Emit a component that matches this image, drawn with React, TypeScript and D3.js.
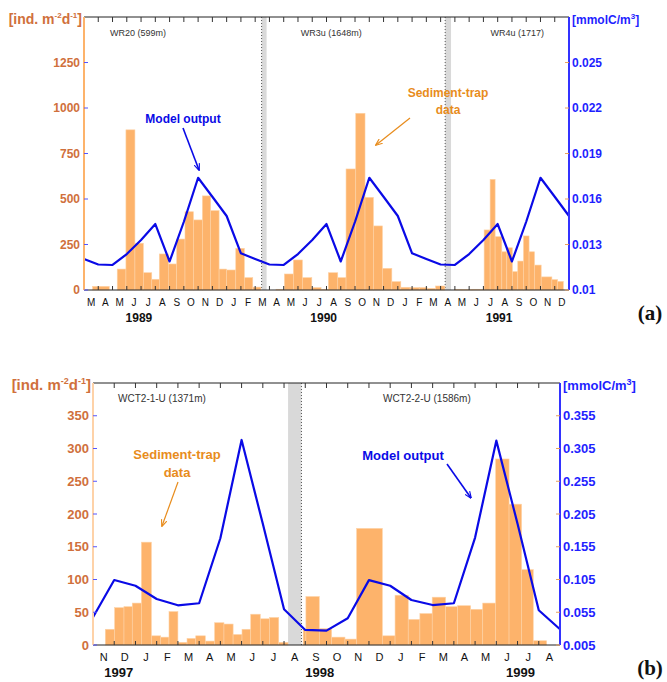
import React from "react"
import * as d3 from "d3"

// panel (a): month index 0 = March 1989, 34 months to Dec 1991
const monthsA = ["M","A","M","J","J","A","S","O","N","D","J","F","M","A","M","J","J","A","S","O","N","D","J","F","M","A","M","J","J","A","S","O","N","D"]
const yearsA = ["1989", "1990", "1991"]
const yearMonthA = [3.85, 16.8, 29.1]
const trapStartA = [0.6, 2.33, 2.94, 3.57, 4.16, 4.75, 5.28, 5.91, 6.5, 7.08, 7.67, 8.3, 8.88, 9.47, 10.0, 10.64, 11.24, 11.83,
  13.46, 14.05, 14.68, 15.31, 15.97, 16.62, 17.13, 17.79, 18.37, 19.05, 19.7, 20.29, 20.92, 21.58, 22.21, 22.86, 23.5, 24.05, 24.65,
  25.97, 26.49, 27.2, 28.05, 28.47, 28.82, 29.29, 29.64, 30.03, 30.41, 30.81, 31.2, 31.58, 32.05, 32.8, 33.2]
const trapEndA = [1.77, 2.94, 3.57, 4.16, 4.75, 5.28, 5.91, 6.5, 7.08, 7.67, 8.3, 8.88, 9.47, 10.0, 10.64, 11.24, 11.83, 12.4,
  14.05, 14.68, 15.31, 15.97, 16.62, 17.13, 17.79, 18.37, 19.05, 19.7, 20.29, 20.92, 21.58, 22.21, 22.86, 23.5, 24.05, 24.65, 25.3,
  26.49, 27.2, 28.05, 28.47, 28.82, 29.29, 29.64, 30.03, 30.41, 30.81, 31.2, 31.58, 32.05, 32.8, 33.2, 33.6]
const trapFluxA = [20, 115, 880, 257, 95, 59, 198, 143, 280, 430, 385, 517, 436, 115, 110, 229, 68, 16,
  4, 88, 165, 68, 13, 4, 95, 68, 665, 971, 509, 352, 119, 46, 15, 13, 13, 9, 22,
  4, 2, 4, 330, 608, 293, 210, 232, 101, 159, 297, 210, 137, 72, 57, 47]
// model output at month starts, index 0..34
const modelA = [0.01204, 0.01168, 0.01165, 0.01237, 0.0133, 0.01435, 0.01188, 0.0145, 0.0174, 0.01615, 0.01488, 0.01242,
  0.01204, 0.01168, 0.01165, 0.01237, 0.0133, 0.01435, 0.01188, 0.0145, 0.0174, 0.01615, 0.01488, 0.01242,
  0.01204, 0.01168, 0.01165, 0.01237, 0.0133, 0.01435, 0.01188, 0.0145, 0.0174, 0.01615, 0.01488]
const gapStartA = [12.45, 25.32]
const gapEndA = [12.8, 25.73]
const trapNamesA = ["WR20 (599m)", "WR3u (1648m)", "WR4u (1717)"]
const trapNameMonthA = [1.82, 15.2, 28.5]
const fluxTicksA = [0, 250, 500, 750, 1000, 1250]
const modelTicksA = [0.01, 0.013, 0.016, 0.019, 0.022, 0.025]

// panel (b): month index 0 = November 1997, 22 months to Aug 1999
const monthsB = ["N","D","J","F","M","A","M","J","J","A","S","O","N","D","J","F","M","A","M","J","J","A"]
const yearsB = ["1997", "1998", "1999"]
const yearMonthB = [1.21, 10.68, 20.14]
const trapStartB = [0.58, 1.02, 1.46, 1.85, 2.28, 2.75, 3.19, 3.58, 4.0, 4.43, 4.84, 5.29, 5.73, 6.17, 6.6, 7.02, 7.43, 7.88, 8.32, 8.75,
  9.9, 10.03, 10.66, 11.24, 11.87, 12.42, 13.63, 14.23, 14.85, 15.4, 15.98, 16.61, 17.18, 17.79, 18.36, 18.97, 19.6, 20.19, 20.74]
const trapEndB = [1.02, 1.46, 1.85, 2.28, 2.75, 3.19, 3.58, 4.0, 4.43, 4.84, 5.29, 5.73, 6.17, 6.6, 7.02, 7.43, 7.88, 8.32, 8.75, 9.19,
  10.03, 10.66, 11.24, 11.87, 12.42, 13.63, 14.23, 14.85, 15.4, 15.98, 16.61, 17.18, 17.79, 18.36, 18.97, 19.6, 20.19, 20.74, 21.37]
const trapFluxB = [24, 57, 58.5, 64, 157, 14, 12, 51, 4, 10, 14, 6, 34, 32, 16, 24, 47, 40, 42, 4,
  24, 74, 25, 12, 9, 178, 14, 76, 39, 48, 73, 58.5, 60, 54.5, 64, 284, 215, 115, 6.5]
const modelB = [0.0473, 0.1042, 0.0955, 0.0752, 0.0656, 0.0687, 0.168, 0.318, 0.19, 0.0595, 0.028, 0.027,
  0.0458, 0.104, 0.0955, 0.0737, 0.066, 0.0687, 0.169, 0.317, 0.19, 0.058, 0.029]
const gapStartB = [9.19]
const gapEndB = [9.82]
const trapNamesB = ["WCT2-1-U (1371m)", "WCT2-2-U (1586m)"]
const trapNameMonthB = [1.18, 13.66]
const fluxTicksB = [0, 50, 100, 150, 200, 250, 300, 350]
const modelTicksB = [0.005, 0.055, 0.105, 0.155, 0.205, 0.255, 0.305, 0.355]

const ORANGE_TXT = "#d0703c"
const ORANGE_NOTE = "#e88c1c"
const BAR = "#fdb36b"
const BLUE = "#0a0ae6"
const BLUE_TXT = "#1f1fff"
const SANS = "Liberation Sans, Arial, sans-serif"

type Note = { text: string[]; x: number; y: number; size: number; color: string; arrow: [number, number, number, number] }

type PanelProps = {
  months: string[]; years: string[]; yearMonth: number[]
  trapStart: number[]; trapEnd: number[]; trapFlux: number[]; model: number[]
  gapStart: number[]; gapEnd: number[]; dotAtEnd: boolean
  names: string[]; nameMonth: number[]
  fluxTicks: number[]; modelTicks: number[]
  fluxMax: number; modelDomain: [number, number]; modelFmt: (v: number) => string
  left: number; right: number; top: number; bottom: number
  tickSize: number; monthSize: number; yearSize: number; nameSize: number
  leftAxisColor: string; notes: Note[]; tag: string; tagY: number; id: string
}

const Panel = (p: PanelProps) => {
  const n = p.months.length
  const x = d3.scaleLinear().domain([0, n]).range([p.left, p.right])
  const yL = d3.scaleLinear().domain([0, p.fluxMax]).range([p.bottom, p.top])
  const yR = d3.scaleLinear().domain(p.modelDomain).range([p.bottom, p.top])
  const line = d3.line<number>().x((_, i) => x(i)).y(d => yR(d))
  const bounds = d3.range(n + 1)
  return (
    <g fontFamily={SANS}>
      {p.gapStart.map((g, i) => (
        <g key={"gap" + i}>
          <rect x={x(g)} y={p.top} width={x(p.gapEnd[i]) - x(g)} height={p.bottom - p.top} fill="#d9d9d9" />
          <line x1={x(p.dotAtEnd ? p.gapEnd[i] : g)} x2={x(p.dotAtEnd ? p.gapEnd[i] : g)} y1={p.top} y2={p.bottom}
            stroke="#555" strokeWidth={1} strokeDasharray="1,2" />
        </g>
      ))}
      {p.trapFlux.map((v, i) => (
        <rect key={"b" + i} x={x(p.trapStart[i])} y={yL(v)} width={x(p.trapEnd[i]) - x(p.trapStart[i])}
          height={p.bottom - yL(v)} fill={BAR} stroke="#fdd2a6" strokeWidth={0.6} />
      ))}
      <path d={line(p.model) ?? ""} fill="none" stroke={BLUE} strokeWidth={2.2} strokeLinejoin="round" />
      {/* frame */}
      <line x1={p.left} x2={p.right} y1={p.top} y2={p.top} stroke="#222" strokeWidth={1} />
      <line x1={p.left} x2={p.right} y1={p.bottom} y2={p.bottom} stroke="#222" strokeWidth={1} />
      {bounds.map(b => (
        <g key={"t" + b}>
          <line x1={x(b)} x2={x(b)} y1={p.top} y2={p.top + 5} stroke="#333" />
          <line x1={x(b)} x2={x(b)} y1={p.bottom} y2={p.bottom - 4} stroke="#333" />
        </g>
      ))}
      <line x1={p.left} x2={p.left} y1={p.top} y2={p.bottom} stroke={p.leftAxisColor} strokeWidth={2} />
      <line x1={p.right} x2={p.right} y1={p.top} y2={p.bottom} stroke="#3333ff" strokeWidth={2} />
      {p.fluxTicks.map(t => (
        <g key={"l" + t}>
          <line x1={p.left} x2={p.left + 4} y1={yL(t)} y2={yL(t)} stroke="#5555ff" />
          <text x={p.left - 4} y={yL(t)} dy="0.36em" textAnchor="end" fontSize={p.tickSize} fontWeight="bold" fill={ORANGE_TXT}>{t}</text>
        </g>
      ))}
      {p.modelTicks.map(t => (
        <g key={"r" + t}>
          <line x1={p.right - 4} x2={p.right} y1={yR(t)} y2={yR(t)} stroke="#e8a060" />
          <text x={p.right + 3} y={yR(t)} dy="0.36em" fontSize={p.tickSize} fontWeight="bold" fill={BLUE_TXT}>{p.modelFmt(t)}</text>
        </g>
      ))}
      {p.months.map((m, i) => (
        <text key={"m" + i} x={x(i + 0.5)} y={p.bottom + 16} textAnchor="middle" fontSize={p.monthSize} fill="#111">{m}</text>
      ))}
      {p.years.map((yr, i) => (
        <text key={"y" + i} x={x(p.yearMonth[i])} y={p.bottom + 32} textAnchor="middle" fontSize={p.yearSize} fontWeight="bold" fill="#111">{yr}</text>
      ))}
      {p.names.map((nm, i) => (
        <text key={"n" + i} x={x(p.nameMonth[i])} y={p.top + 19} fontSize={p.nameSize} fill="#333">{nm}</text>
      ))}
      <text x={p.left - 2} y={p.top + 7} textAnchor="end" fontSize={p.tickSize + 2} fontWeight="bold" fill={ORANGE_TXT}>
        [ind. m<tspan dy={-6} fontSize={p.tickSize - 4}>-2</tspan><tspan dy={6}>d</tspan><tspan dy={-6} fontSize={p.tickSize - 4}>-1</tspan><tspan dy={6}>]</tspan>
      </text>
      <text x={p.right + 3} y={p.top + 7} fontSize={p.tickSize} fontWeight="bold" fill={BLUE_TXT}>
        [mmolC/m<tspan dy={-5} fontSize={p.tickSize - 4}>3</tspan><tspan dy={5}>]</tspan>
      </text>
      {p.notes.map((nt, i) => {
        const [x1, y1, x2, y2] = nt.arrow
        return (
          <g key={"note" + i}>
            {nt.text.map((t, j) => (
              <text key={j} x={nt.x} y={nt.y + j * (nt.size + 5)} textAnchor="middle" fontSize={nt.size} fontWeight="bold" fill={nt.color}>{t}</text>
            ))}
            <line x1={x1} y1={y1} x2={x2} y2={y2} stroke={nt.color} strokeWidth={nt.color === BLUE ? 1.6 : 1.2}
              markerEnd={`url(#${p.id}-arr${i})`} />
            <defs>
              <marker id={`${p.id}-arr${i}`} viewBox="0 0 10 10" refX={9} refY={5} markerWidth={7} markerHeight={7}
                markerUnits="userSpaceOnUse" orient="auto">
                <path d="M0,1 L10,5 L0,9" fill="none" stroke={nt.color} strokeWidth={1.6} />
              </marker>
            </defs>
          </g>
        )
      })}
      <text x={650} y={p.tagY} textAnchor="middle" fontFamily="Liberation Serif, Times New Roman, serif" fontSize={21} fontWeight="bold" fill="#111">{p.tag}</text>
    </g>
  )
}

export default function App() {
  return (
    <div style={{ position: "absolute", left: 0, top: 0 }}>
      <svg width={667} height={682} style={{ display: "block", background: "#fff" }}>
        <Panel id="a" months={monthsA} years={yearsA} yearMonth={yearMonthA}
          trapStart={trapStartA} trapEnd={trapEndA} trapFlux={trapFluxA} model={modelA}
          gapStart={gapStartA} gapEnd={gapEndA} dotAtEnd={false}
          names={trapNamesA} nameMonth={trapNameMonthA}
          fluxTicks={fluxTicksA} modelTicks={modelTicksA} fluxMax={1500} modelDomain={[0.01, 0.028]}
          modelFmt={d3.format(".3~f")}
          left={84} right={569} top={17} bottom={290}
          tickSize={12} monthSize={10} yearSize={12} nameSize={9}
          leftAxisColor="#fdb36b"
          notes={[
            { text: ["Model output"], x: 183, y: 123, size: 12, color: BLUE, arrow: [183, 128, 199, 170] },
            { text: ["Sediment-trap", "data"], x: 448, y: 97, size: 12, color: ORANGE_NOTE, arrow: [410, 118, 376, 145] },
          ]}
          tag="(a)" tagY={320} />
        <Panel id="b" months={monthsB} years={yearsB} yearMonth={yearMonthB}
          trapStart={trapStartB} trapEnd={trapEndB} trapFlux={trapFluxB} model={modelB}
          gapStart={gapStartB} gapEnd={gapEndB} dotAtEnd={true}
          names={trapNamesB} nameMonth={trapNameMonthB}
          fluxTicks={fluxTicksB} modelTicks={modelTicksB} fluxMax={400} modelDomain={[0.005, 0.405]}
          modelFmt={d3.format(".3f")}
          left={93} right={560} top={383} bottom={645}
          tickSize={13} monthSize={11} yearSize={13} nameSize={10}
          leftAxisColor="#fed2a8"
          notes={[
            { text: ["Sediment-trap", "data"], x: 177, y: 459, size: 13, color: ORANGE_NOTE, arrow: [178, 482, 162, 526] },
            { text: ["Model output"], x: 403, y: 460, size: 13, color: BLUE, arrow: [447, 464, 471, 498] },
          ]}
          tag="(b)" tagY={675} />
      </svg>
    </div>
  )
}
